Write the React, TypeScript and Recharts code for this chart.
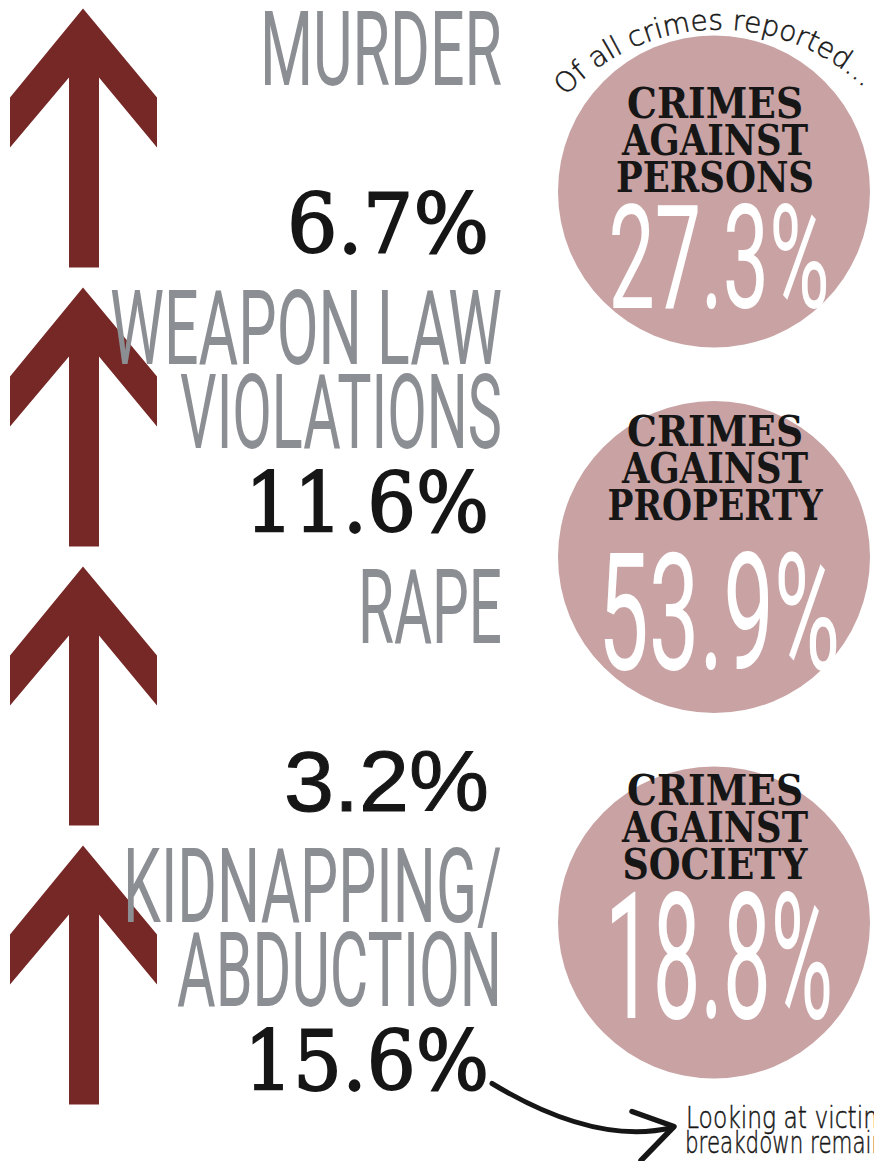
import React from "react";
import { ComposedChart, Scatter, XAxis, YAxis } from "recharts";

// --- data ---
const crimeLabels = [["MURDER"], ["WEAPON LAW", "VIOLATIONS"], ["RAPE"], ["KIDNAPPING/", "ABDUCTION"]];
const crimeChange = [6.7, 11.6, 3.2, 15.6];

const shareCategories = [
  ["CRIMES", "AGAINST", "PERSONS"],
  ["CRIMES", "AGAINST", "PROPERTY"],
  ["CRIMES", "AGAINST", "SOCIETY"],
];
const shareValues = [27.3, 53.9, 18.8];

const introNote = "Of all crimes reported...";
const outroNote = ["Looking at victim", "breakdown remain"];

// --- layout ---
const W = 874;
const H = 1161;
const ARROW = "#762826";
const CIRCLE = "#c9a2a3";
const GREY = "#8b8e93";
const INK = "#161616";
const COND = "Roboto, 'Liberation Sans', sans-serif";
const SLAB = "'DejaVu Serif', serif";
const HAND = "'DejaVu Sans', sans-serif";
const SANS = "'Liberation Sans', Arial, sans-serif";

// x: left column (arrows) and right column (circles); y: one slot per row
function domainFor(first: number, step: number, span: number): [number, number] {
  const a = -first / step;
  return [a, a + span / step];
}
const xDomain = domainFor(83, 631, W);
const crimeDomain = domainFor(8.5, 279, H);
const shareDomain = domainFor(191.5, 365.5, H);

// widths measured on the reference; the fonts get squeezed to fit
const LABEL_W: Record<string, number> = {
  MURDER: 242,
  "WEAPON LAW": 392,
  VIOLATIONS: 322,
  RAPE: 144,
  "KIDNAPPING/": 379,
  ABDUCTION: 325,
};
const VALUE_W = [202, 244, 205, 245];
const VALUE_FONT = [SLAB, SLAB, SANS, SLAB];
const TITLE_W: Record<string, number> = {
  CRIMES: 176,
  AGAINST: 186,
  PERSONS: 198,
  PROPERTY: 215,
  SOCIETY: 185,
};
const CIRCLE_TEXT = [
  { title: -74, num: 116, size: 145, w: 221 },
  { title: -111, num: 112, size: 163, w: 242 },
  { title: -118, num: 95, size: 176, w: 228 },
];

const crimeRows = crimeLabels.map((lines, i) => ({ col: 0, slot: i, lines, value: crimeChange[i] }));
const shareRows = shareCategories.map((lines, i) => ({ col: 1, slot: i, lines, value: shareValues[i] }));

const fmt = (v: number) => `${v.toFixed(1)}%`;

const ARROW_PTS = [
  [0, 0], [74, 89], [74, 139], [16, 69], [16, 259],
  [-14, 259], [-14, 69], [-73, 139], [-73, 89],
];

function ArrowMark(props: any) {
  const { cx, cy, payload } = props;
  if (cx == null || cy == null || !payload) return null;
  const i = payload.slot;
  const last = i === crimeLabels.length - 1;
  const pts = ARROW_PTS.map(([dx, dy]) => `${cx + dx},${cy + dy}`).join(" ");
  const serif = VALUE_FONT[i] === SLAB;
  return (
    <g>
      <polygon points={pts} fill={ARROW} />
      {payload.lines.map((line: string, k: number) => (
        <text
          key={line}
          x={cx + 419}
          y={cy + 76 + k * 84}
          textAnchor="end"
          fontFamily={COND}
          fontSize={104}
          fill={GREY}
          textLength={LABEL_W[line]}
          lengthAdjust="spacingAndGlyphs"
        >
          {line}
        </text>
      ))}
      <text
        x={cx + 406}
        y={cy + 244}
        textAnchor="end"
        fontFamily={VALUE_FONT[i]}
        fontSize={serif ? 82 : 86}
        fill={INK}
        stroke={INK}
        strokeWidth={serif ? 1.8 : 1}
        textLength={VALUE_W[i]}
        lengthAdjust="spacingAndGlyphs"
      >
        {fmt(payload.value)}
      </text>
      {last && (
        <g>
          <path
            d={`M${cx + 409},${cy + 238} C${cx + 462},${cy + 270} ${cx + 527},${cy + 297} ${cx + 590},${cy + 282}`}
            fill="none"
            stroke={INK}
            strokeWidth={5}
            strokeLinecap="round"
          />
          <path
            d={`M${cx + 549},${cy + 266} L${cx + 591},${cy + 281} L${cx + 558},${cy + 315}`}
            fill="none"
            stroke={INK}
            strokeWidth={5.5}
            strokeLinecap="round"
            strokeLinejoin="round"
          />
          {outroNote.map((t, k) => (
            <text
              key={t}
              x={cx + 603 - k}
              y={cy + 282 + k * 25}
              fontFamily={HAND}
              fontWeight={200}
              fontSize={30}
              fill={INK}
              stroke={INK}
              strokeWidth={0.5}
              textLength={200}
              lengthAdjust="spacingAndGlyphs"
            >
              {t}
            </text>
          ))}
        </g>
      )}
    </g>
  );
}

function ShareMark(props: any) {
  const { cx, cy, payload } = props;
  if (cx == null || cy == null || !payload) return null;
  const j = payload.slot;
  const lay = CIRCLE_TEXT[j];
  // handwritten note curving over the first circle
  const acx = cx + 5;
  const acy = cy + 48;
  const r = 210;
  const a0 = (-137 * Math.PI) / 180;
  const a1 = (-44 * Math.PI) / 180;
  const arc = `M${acx + r * Math.cos(a0)},${acy + r * Math.sin(a0)} A${r},${r} 0 0 1 ${acx + r * Math.cos(a1)},${acy + r * Math.sin(a1)}`;
  return (
    <g>
      <circle cx={cx} cy={cy} r={156} fill={CIRCLE} />
      {payload.lines.map((line: string, k: number) => (
        <text
          key={line}
          x={cx + 1}
          y={cy + lay.title + k * 37}
          textAnchor="middle"
          fontFamily={SLAB}
          fontWeight="bold"
          fontSize={43}
          fill={INK}
          textLength={TITLE_W[line]}
          lengthAdjust="spacingAndGlyphs"
        >
          {line}
        </text>
      ))}
      <text
        x={cx + 5}
        y={cy + lay.num}
        textAnchor="middle"
        fontFamily={COND}
        fontSize={lay.size}
        fill="#ffffff"
        textLength={lay.w}
        lengthAdjust="spacingAndGlyphs"
      >
        {fmt(payload.value)}
      </text>
      {j === 0 && (
        <g>
          <path id="intro-arc" d={arc} fill="none" />
          <text fontFamily={HAND} fontWeight={200} fontSize={28} fill={INK} stroke={INK} strokeWidth={0.5}>
            <textPath href="#intro-arc">{introNote}</textPath>
          </text>
        </g>
      )}
    </g>
  );
}

export default function App() {
  return (
    <div style={{ width: W, height: H, background: "#ffffff" }}>
      <style>{"body{margin:0;background:#fff}"}</style>
      <ComposedChart width={W} height={H} margin={{ top: 0, right: 0, bottom: 0, left: 0 }}>
        <XAxis type="number" dataKey="col" domain={xDomain} allowDataOverflow hide />
        <YAxis yAxisId="crime" type="number" dataKey="slot" domain={crimeDomain} allowDataOverflow reversed hide />
        <YAxis yAxisId="share" type="number" dataKey="slot" domain={shareDomain} allowDataOverflow reversed hide />
        <Scatter
          yAxisId="share"
          data={shareRows}
          shape={(p: any) => <ShareMark {...p} />}
          isAnimationActive={false}
        />
        <Scatter
          yAxisId="crime"
          data={crimeRows}
          shape={(p: any) => <ArrowMark {...p} />}
          isAnimationActive={false}
        />
      </ComposedChart>
    </div>
  );
}
